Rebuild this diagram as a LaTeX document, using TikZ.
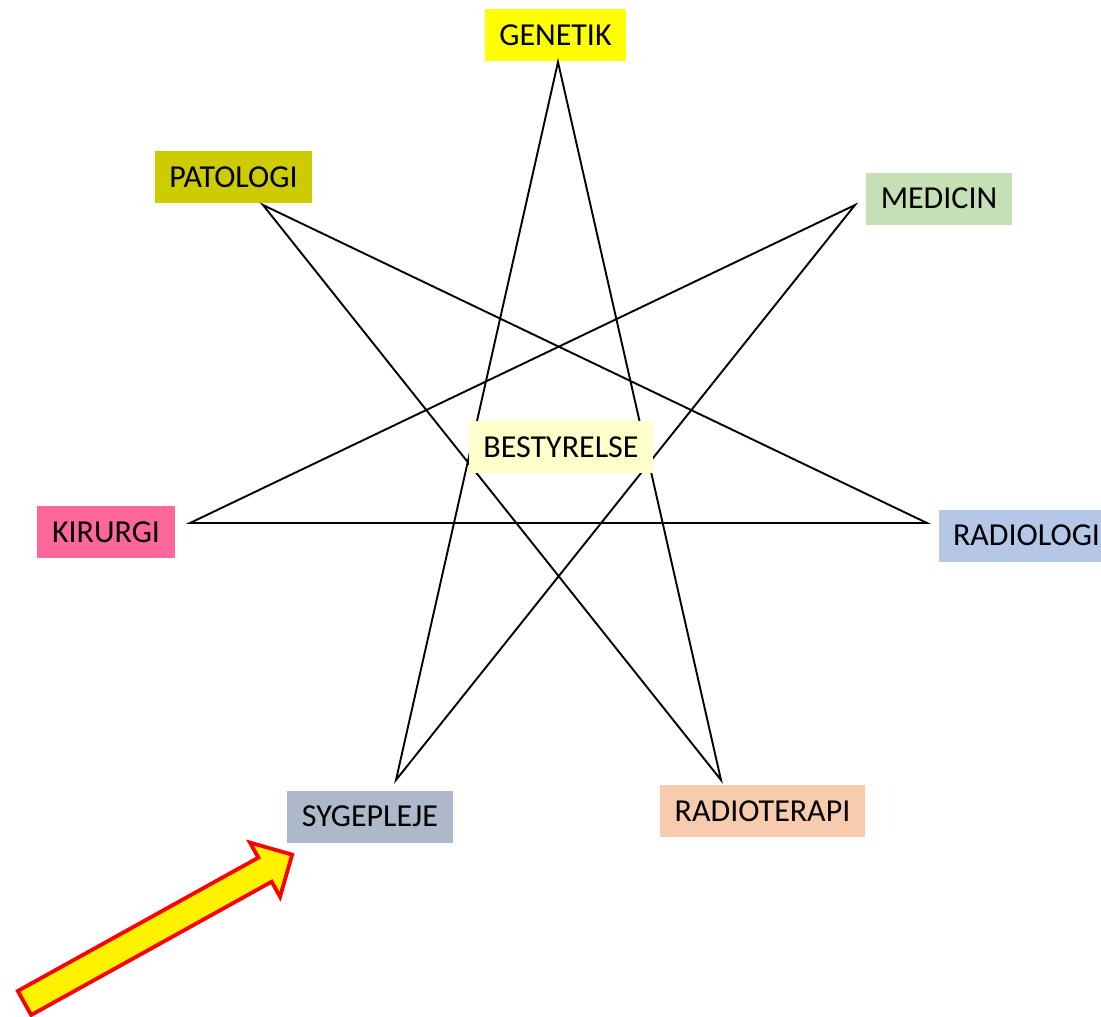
\documentclass[tikz,border=0pt]{standalone}
\usepackage{fontspec}
\setmainfont{Carlito}
\usepackage{xcolor}
\usetikzlibrary{arrows.meta, positioning, calc}

\definecolor{genetik}{HTML}{FFFF00}
\definecolor{patologi}{HTML}{CCCC00}
\definecolor{medicin}{HTML}{C5E0B4}
\definecolor{radiologi}{HTML}{B4C7E7}
\definecolor{kirurgi}{HTML}{FF6699}
\definecolor{sygepleje}{HTML}{ADB9CA}
\definecolor{radioterapi}{HTML}{F8CBAD}
\definecolor{bestyrelse}{HTML}{FFFFCC}

\tikzset{
  dept/.style={font=\fontsize{32}{38}\selectfont, inner xsep=14pt, minimum height=52pt, text depth=0pt},
  starline/.style={line width=1.9pt, line join=miter},
  pointer/.style={draw=red, fill=yellow, line width=3.8pt, line join=miter}
}

\begin{document}
\begin{tikzpicture}[x=1pt, y=-1pt]
  \clip (0,0) rectangle (1101,1017);
  \fill[white] (0,0) rectangle (1101,1017);

  \node[dept, fill=genetik, minimum width=141pt] (genetik) at (555.5,35) {GENETIK};
  \node[dept, fill=patologi, minimum width=157pt] (patologi) at (233.5,177) {PATOLOGI};
  \node[dept, fill=medicin, minimum width=146pt] (medicin) at (939,198.5) {MEDICIN};
  \node[dept, fill=radiologi, minimum width=171pt] (radiologi) at (1026.5,535.5) {RADIOLOGI};
  \node[dept, fill=kirurgi, minimum width=138pt] (kirurgi) at (106,532) {KIRURGI};
  \node[dept, fill=sygepleje, minimum width=166pt] (sygepleje) at (370,816.5) {SYGEPLEJE};
  \node[dept, fill=radioterapi, minimum width=205pt] (radioterapi) at (762.5,811) {RADIOTERAPI};

  \coordinate (g) at (558,62);
  \coordinate (m) at (855,205);
  \coordinate (r) at (927,523);
  \coordinate (rt) at (721,780);
  \coordinate (s) at (396,780);
  \coordinate (k) at (190,523);
  \coordinate (p) at (263,205);

  \draw[starline] (g) -- (rt) -- (p) -- (r) -- (k) -- (m) -- (s) -- cycle;

  \node[dept, fill=bestyrelse, minimum width=184pt] (bestyrelse) at (561,447) {BESTYRELSE};

  \coordinate (tail) at (24.5,1003);
  \begin{scope}[shift={(tail)}, rotate=29]
    \draw[pointer] (0,-13.75) -- (275,-13.75) -- (275,-31) -- (306,0)
      -- (275,31) -- (275,13.75) -- (0,13.75) -- cycle;
  \end{scope}
\end{tikzpicture}
\end{document}
